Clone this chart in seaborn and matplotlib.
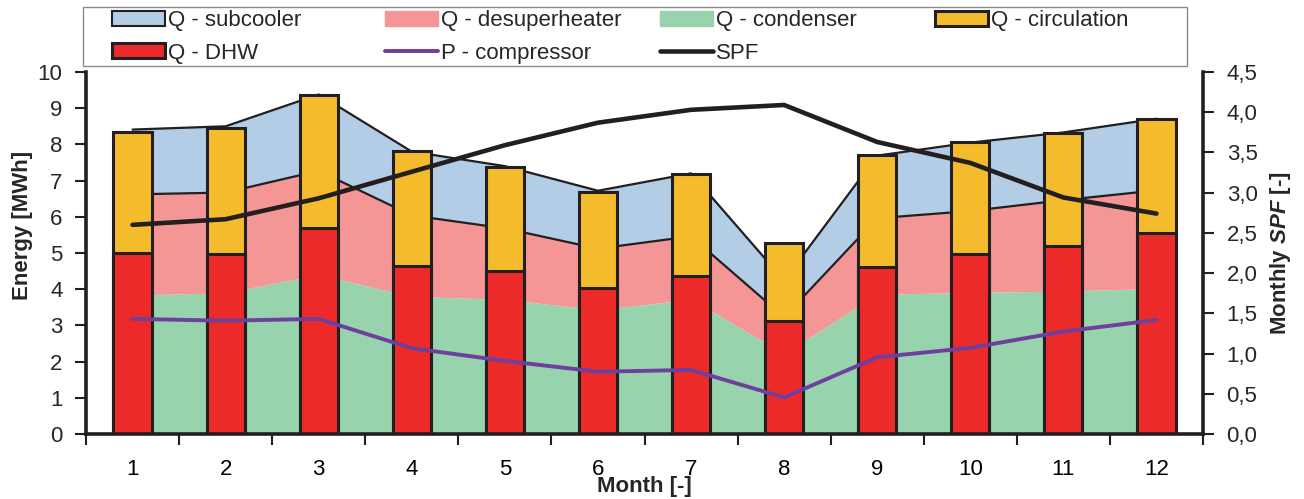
import numpy as np
import pandas as pd
import matplotlib
matplotlib.use("Agg")
import matplotlib.pyplot as plt
from matplotlib import font_manager
from matplotlib.patches import Patch, Rectangle
from matplotlib.lines import Line2D
from matplotlib.ticker import FuncFormatter
import seaborn as sns

# ---------------- data ----------------
months = [1, 2, 3, 4, 5, 6, 7, 8, 9, 10, 11, 12]
q_condenser = [3.84, 3.90, 4.40, 3.80, 3.72, 3.43, 3.72, 2.22, 3.86, 3.91, 3.95, 4.02]
q_desuperheater = [2.78, 2.77, 2.87, 2.24, 1.96, 1.69, 1.74, 1.01, 2.10, 2.25, 2.51, 2.71]
q_subcooler = [1.79, 1.83, 2.11, 1.76, 1.72, 1.60, 1.74, 1.01, 1.73, 1.89, 1.87, 1.98]
q_dhw = [5.00, 4.97, 5.68, 4.64, 4.49, 4.02, 4.37, 3.13, 4.60, 4.96, 5.19, 5.56]
q_circulation = [3.35, 3.49, 3.68, 3.18, 2.88, 2.67, 2.82, 2.14, 3.11, 3.11, 3.13, 3.13]
p_compressor = [3.18, 3.13, 3.18, 2.37, 2.02, 1.72, 1.77, 1.01, 2.12, 2.38, 2.83, 3.15]
spf = [2.60, 2.67, 2.93, 3.26, 3.59, 3.87, 4.03, 4.09, 3.63, 3.37, 2.94, 2.74]

energy_ticks = [0, 1, 2, 3, 4, 5, 6, 7, 8, 9, 10]
spf_ticks = [0.0, 0.5, 1.0, 1.5, 2.0, 2.5, 3.0, 3.5, 4.0, 4.5]

df = pd.DataFrame({
    "month": months,
    "dhw": q_dhw,
    "total": np.array(q_dhw) + np.array(q_circulation),
    "p": p_compressor,
    "spf": spf,
})

# ---------------- style ----------------
sns.set_theme(style="white")
available = {f.name for f in font_manager.fontManager.ttflist}
base = "Liberation Sans Narrow" if "Liberation Sans Narrow" in available else "Liberation Sans"
plt.rcParams["font.family"] = [base, "DejaVu Sans"]
plt.rcParams["mathtext.fontset"] = "custom"
plt.rcParams["mathtext.rm"] = base
plt.rcParams["mathtext.it"] = base + ":italic"
plt.rcParams["mathtext.bf"] = base + ":bold"
plt.rcParams["mathtext.bfit"] = base + ":italic:bold"

DARK = "#231f20"
C_SUB = "#b3cde6"
C_DESUP = "#f59696"
C_COND = "#97d4ae"
C_CIRC = "#f4bc2c"
C_DHW = "#ec2a2a"
C_P = "#6e3f9d"

FS = 16
W, H = 1304, 499

fig = plt.figure(figsize=(W / 100, H / 100), dpi=100)
ax = fig.add_axes([86 / W, 1 - 434 / H, (1203 - 86) / W, (434 - 72) / H])

# stacked areas
ax.stackplot(months, q_condenser, q_desuperheater, q_subcooler,
             colors=[C_COND, C_DESUP, C_SUB], linewidth=0, zorder=1)
cum1 = np.array(q_condenser) + np.array(q_desuperheater)
cum2 = cum1 + np.array(q_subcooler)
ax.plot(months, cum1, color=DARK, lw=1.6, zorder=1.5)
ax.plot(months, cum2, color=DARK, lw=1.6, zorder=1.5)

# bars (circulation on top of DHW)
sns.barplot(data=df, x="month", y="total", native_scale=True, width=0.41,
            color=C_CIRC, saturation=1, edgecolor=DARK, linewidth=2.2,
            errorbar=None, ax=ax)
sns.barplot(data=df, x="month", y="dhw", native_scale=True, width=0.41,
            color=C_DHW, saturation=1, edgecolor=DARK, linewidth=2.2,
            errorbar=None, ax=ax)
for p in ax.patches:
    p.set_zorder(2)

# compressor line
sns.lineplot(data=df, x="month", y="p", color=C_P, linewidth=2.8, ax=ax, zorder=3)

# SPF on right axis
ax2 = ax.twinx()
sns.lineplot(data=df, x="month", y="spf", color=DARK, linewidth=3.3, ax=ax2, zorder=3)

# axes formatting
ax.set_xlim(0.5, 12.5)
ax.set_ylim(0, 10)
ax2.set_ylim(0, 4.5)
ax.set_yticks(energy_ticks)
ax.set_yticklabels([str(t) for t in energy_ticks])
ax2.set_yticks(spf_ticks)
ax2.yaxis.set_major_formatter(FuncFormatter(lambda v, _: f"{v:.1f}".replace(".", ",")))

ax.set_xticks(months)
ax.set_xticklabels([str(m) for m in months])
ax.set_xticks(np.arange(0.5, 13, 1.0), minor=True)
ax.tick_params(axis="x", which="major", length=0, pad=18, labelsize=FS, colors="black")
ax.tick_params(axis="x", which="minor", length=8, width=1.5, color=DARK, direction="out", bottom=True)
ax.tick_params(axis="y", length=8, width=1.5, color=DARK, direction="out", pad=9, labelsize=FS, left=True)
ax2.tick_params(axis="y", length=8, width=1.5, color=DARK, direction="out", pad=9, labelsize=FS, right=True)

for a in (ax, ax2):
    a.spines["top"].set_visible(False)
    for s in ("left", "right", "bottom"):
        a.spines[s].set_color(DARK)
        a.spines[s].set_linewidth(2.6)
ax.spines["right"].set_visible(False)
ax2.spines["left"].set_visible(False)
ax2.spines["bottom"].set_visible(False)
ax.grid(False)
ax2.grid(False)

ax.set_xlabel("Month [-]", fontsize=FS, fontweight="bold")
ax.xaxis.set_label_coords(0.5, -0.117)
ax.set_ylabel("Energy [MWh]", fontsize=FS, fontweight="bold", va="center")
ax.yaxis.set_label_coords(-0.057, 0.577)
ax2.set_ylabel(r"Monthly $\mathbfit{SPF}$ [-]", fontsize=FS, fontweight="bold", va="center")
ax2.yaxis.set_label_coords(1.069, 0.5)

# legend: frame + one legend per column (equal column widths as in reference)
fig.patches.append(Rectangle((83 / W, 1 - 66 / H), (1187 - 83) / W, 59 / H,
                             transform=fig.transFigure, facecolor="white",
                             edgecolor="#8a8a8a", linewidth=1.0, zorder=0))
columns = [
    (112, [Patch(facecolor=C_SUB, edgecolor=DARK, linewidth=1.5, label="Q - subcooler"),
           Patch(facecolor=C_DHW, edgecolor=DARK, linewidth=2.2, label="Q - DHW")]),
    (385, [Patch(facecolor=C_DESUP, edgecolor=C_DESUP, linewidth=1.0, label="Q - desuperheater"),
           Line2D([], [], color=C_P, linewidth=2.8, label="P - compressor")]),
    (660, [Patch(facecolor=C_COND, edgecolor=C_COND, linewidth=1.0, label="Q - condenser"),
           Line2D([], [], color=DARK, linewidth=3.3, label="SPF")]),
    (935, [Patch(facecolor=C_CIRC, edgecolor=DARK, linewidth=2.2, label="Q - circulation")]),
]
for x0, hs in columns:
    lg = fig.legend(handles=hs, loc="upper left",
                    bbox_to_anchor=(x0 / W, 1 - 10 / H), bbox_transform=fig.transFigure,
                    borderaxespad=0, borderpad=0, fontsize=FS, frameon=False,
                    handlelength=2.4, handleheight=0.65, handletextpad=0.12,
                    labelspacing=0.52)

fig.savefig("out.png", dpi=100)
